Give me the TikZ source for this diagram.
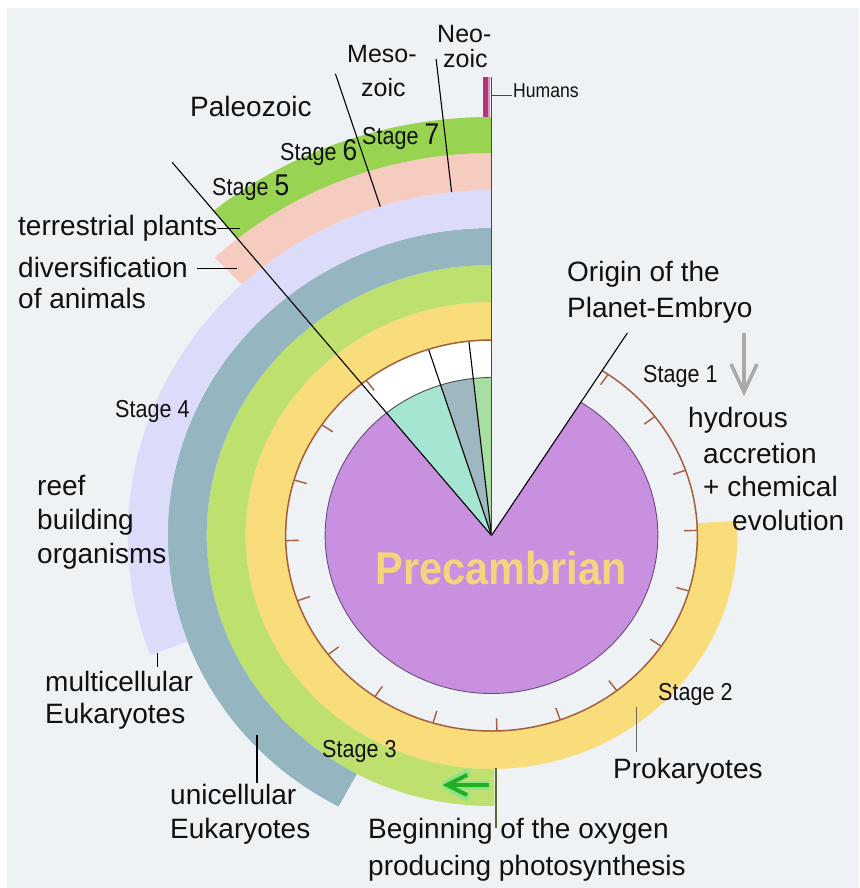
\documentclass[tikz,border=0pt]{standalone}
\usepackage{fontspec}
\setmainfont{Liberation Sans}
\newfontfamily\stagefont{Liberation Sans}[FakeStretch=0.88]
\newfontfamily\precfont{Liberation Sans}[FakeStretch=0.9]
\definecolor{bgc}{HTML}{EEF2F5}
\definecolor{txt}{HTML}{111111}
\definecolor{purp}{HTML}{C990DF}
\definecolor{purpedge}{HTML}{6A4C7C}
\definecolor{mint}{HTML}{A6E5D2}
\definecolor{fangray}{HTML}{9DB8C0}
\definecolor{fangreen}{HTML}{A8DEA0}
\definecolor{ylw}{HTML}{F9DD7A}
\definecolor{lime}{HTML}{BDE06E}
\definecolor{grayblue}{HTML}{95B5C0}
\definecolor{lav}{HTML}{DCDCFA}
\definecolor{pinkr}{HTML}{F6CCC0}
\definecolor{greenr}{HTML}{98D452}
\definecolor{brownc}{HTML}{A45F3C}
\definecolor{precc}{HTML}{F6D47E}
\definecolor{humm}{HTML}{B0357A}
\definecolor{humlight}{HTML}{E58CC0}
\definecolor{vline}{HTML}{4A4A4A}
\definecolor{gar}{HTML}{22B022}
\definecolor{garlight}{HTML}{8BE38B}
\definecolor{arrgray}{HTML}{AAAAAA}
\definecolor{olive}{HTML}{5A6B3A}
\newcommand{\annsec}[5]{\fill[#1] (#2:#4pt) arc[start angle=#2, end angle=#3, radius=#4pt] -- (#3:#5pt) arc[start angle=#3, end angle=#2, radius=#5pt] -- cycle;}
\newcommand{\bigdig}[1]{{\fontsize{30}{30}\selectfont #1}}
\tikzset{
  lbl/.style={anchor=base west, inner sep=0pt, font=\fontsize{28}{30}\selectfont, text=txt},
  stg/.style={anchor=base west, inner sep=0pt, font=\stagefont\fontsize{24.5}{26}\selectfont, text=txt},
  era/.style={anchor=base west, inner sep=0pt, font=\fontsize{25}{27}\selectfont, text=txt},
  blk/.style={draw=black, line width=1.1pt},
  conn/.style={draw=black, line width=1pt},
}
\begin{document}
\begin{tikzpicture}[x=1pt,y=-1pt]
\useasboundingbox (0,0) rectangle (859,888);
\fill[white] (0,0) rectangle (859,888);
\fill[bgc] (7,8) rectangle (859,888);

\begin{scope}[shift={(491.5,535.5)}, xscale=1.053]
  % white area above fan
  \fill[white] (0pt,0pt) -- (90:195.5pt) arc[start angle=90, end angle=129.1, radius=195.5pt] -- cycle;
  % purple disk with wedge
  \fill[purp] (0pt,0pt) -- (129.1:158pt) arc[start angle=129.1, end angle=417.5, radius=158pt] -- cycle;
  \draw[purpedge, line width=0.9pt] (129.1:158pt) arc[start angle=129.1, end angle=417.5, radius=158pt];
  % fan sectors
  \fill[mint] (0pt,0pt) -- (107.8:158pt) arc[start angle=107.8, end angle=129.1, radius=158pt] -- cycle;
  \fill[fangray] (0pt,0pt) -- (96.3:158pt) arc[start angle=96.3, end angle=107.8, radius=158pt] -- cycle;
  \fill[fangreen] (0pt,0pt) -- (90:158pt) arc[start angle=90, end angle=96.3, radius=158pt] -- cycle;
  \draw[black!70, line width=0.9pt] (90:158pt) arc[start angle=90, end angle=129.1, radius=158pt];
  \draw[blk] (0pt,0pt) -- (107.8:195.5pt);
  \draw[blk] (0pt,0pt) -- (96.3:195.5pt);
  % rings
  \annsec{ylw}{90}{363.6}{195.5}{233.5}
  \annsec{lime}{90}{270.6}{233.5}{270.5}
  \annsec{grayblue}{90}{241.8}{270.5}{307.5}
  \annsec{lav}{90}{200.2}{307.5}{345.5}
  \annsec{pinkr}{90}{133.4}{345.5}{382.5}
  \annsec{greenr}{90}{129.1}{382.5}{418.5}
  % brown tick circle
  \draw[brownc, line width=1.5pt] (90:195.5pt) arc[start angle=90, end angle=417.5, radius=195.5pt];
  \foreach \k in {0,1,2,3,7,8,9,10,11,12,13,14,15,16,17,18,19}{
    \pgfmathsetmacro\ang{1.5+18*\k}
    \draw[brownc, line width=1.4pt] (\ang:195.5pt) -- (\ang:183pt);
  }
  % era lines
  \draw[blk] (107.8:345.5pt) -- (107.8:484.8pt);
  \draw[blk] (96.3:345.5pt) -- (96.3:479.4pt);
  \draw[blk] (0pt,0pt) -- (129.1:480.8pt);
  \draw[blk] (0pt,0pt) -- (57.5:240pt);
\end{scope}

% humans bar and axis line
\fill[humm] (483,77) rectangle (487.5,117);
\fill[humlight] (487.5,77) rectangle (489.5,117);
\draw[vline, line width=1.8pt] (491.5,77) -- (491.5,535.5);
\draw[vline, line width=1pt] (491.5,96) -- (512,96);

% arrows
\draw[garlight, line width=9pt] (489,785) -- (455,785);
\draw[garlight, line width=8pt, line join=round] (469,772) -- (446,785) -- (469,798);
\draw[gar, line width=4.5pt] (489,785) -- (452,785);
\draw[gar, line width=4pt, line join=miter] (467,775) -- (447,785) -- (467,795);
\draw[arrgray, line width=3.5pt] (744,333) -- (744,390);
\draw[arrgray, line width=3.5pt, line join=miter] (731,364) -- (744,392) -- (757,364);

% connectors
\draw[conn] (217,228) -- (240,228);
\draw[conn] (197,268) -- (237,268);
\draw[conn] (157,653) -- (157,667);
\draw[conn, line width=1.8pt] (257,735) -- (257,783);
\draw[draw=black!60, line width=1pt] (636,707) -- (636,752);
\draw[olive, line width=1.6pt] (496,768) -- (496,828);

% texts
\node[era] (neo1) at (437,43) {Neo-};
\node[era] (neo2) at (443,68) {zoic};
\node[era] (meso1) at (347,63) {Meso-};
\node[era] (meso2) at (361,97) {zoic};
\node[anchor=base west, inner sep=0pt, font=\stagefont\fontsize{20}{22}\selectfont, text=txt] (hum) at (513,98) {Humans};
\node[lbl] (paleo) at (190,117) {Paleozoic};
\node[stg] (st7) at (362,144) {Stage \bigdig{7}};
\node[stg] (st6) at (280,160) {Stage \bigdig{6}};
\node[stg] (st5) at (212,195) {Stage \bigdig{5}};
\node[lbl] (terr) at (18,235) {terrestrial plants};
\node[lbl] (div1) at (18,277) {diversification};
\node[lbl] (div2) at (18,308) {of animals};
\node[stg] (st4) at (115,417) {Stage 4};
\node[lbl] (reef1) at (37,495) {reef};
\node[lbl] (reef2) at (37,529) {building};
\node[lbl] (reef3) at (37,563) {organisms};
\node[lbl] (multi1) at (45,691) {multicellular};
\node[lbl] (multi2) at (45,723) {Eukaryotes};
\node[lbl] (uni1) at (170,804) {unicellular};
\node[lbl] (uni2) at (170,838) {Eukaryotes};
\node[stg] (st3) at (322,757) {Stage 3};
\node[lbl] (oxy1) at (368,838) {Beginning of the oxygen};
\node[lbl] (oxy2) at (368,875) {producing photosynthesis};
\node[lbl] (prok) at (613,778) {Prokaryotes};
\node[stg] (st2) at (658,700) {Stage 2};
\node[stg] (st1) at (643,382) {Stage 1};
\node[lbl] (orig1) at (567,281) {Origin of the};
\node[lbl] (orig2) at (567,317) {Planet-Embryo};
\node[lbl] (hyd1) at (688,427) {hydrous};
\node[lbl] (hyd2) at (703,463) {accretion};
\node[lbl] (hyd3) at (703,496) {+ chemical};
\node[lbl] (hyd4) at (732,530) {evolution};
\node[anchor=base, inner sep=0pt, font=\precfont\bfseries\fontsize{46}{48}\selectfont, text=precc] (prec) at (501,584) {Precambrian};
\end{tikzpicture}
\end{document}
